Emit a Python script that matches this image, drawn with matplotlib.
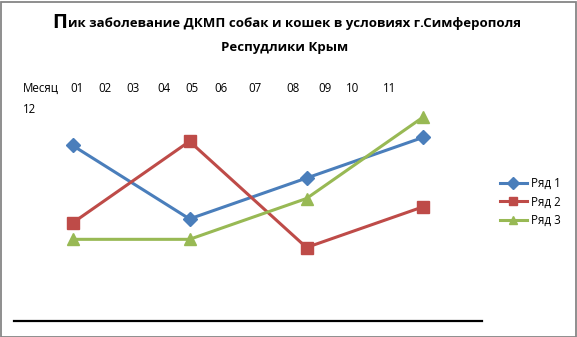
import matplotlib
matplotlib.use("Agg")
import matplotlib.pyplot as plt
from matplotlib.patches import Rectangle

plt.rcParams['font.family'] = ['Open Sans', 'DejaVu Sans']

categories = ["1", "2", "3", "4"]
series_names = ["Ряд 1", "Ряд 2", "Ряд 3"]
ryad1 = [4.3, 2.5, 3.5, 4.5]
ryad2 = [2.4, 4.4, 1.8, 2.8]
ryad3 = [2.0, 2.0, 3.0, 5.0]
month_word = "Месяц"
months = ["01", "02", "03", "04", "05", "06", "07", "08", "09", "10", "11", "12"]

W, H = 577, 337
fig = plt.figure(figsize=(W / 100, H / 100), dpi=100)

def fx(px):
    return px / W

def fy(py):
    return 1 - py / H

# frame
fig.patches.append(Rectangle((0.5 / W, 0.5 / H), (W - 2) / W, (H - 2) / H,
                             transform=fig.transFigure, fill=False,
                             edgecolor="#868686", linewidth=1.3))

ax = fig.add_axes([fx(14), fy(321), fx(482) - fx(14), fy(76) - fy(321)])
ax.set_xlim(-0.5, 3.5)
ax.set_ylim(0, 6)
for s in ["top", "right", "left"]:
    ax.spines[s].set_visible(False)
ax.spines["bottom"].set_linewidth(1.6)
ax.spines["bottom"].set_color("black")
ax.set_xticks([])
ax.set_yticks([])

x = list(range(len(categories)))
styles = [
    (ryad1, "#4A7EBB", "D", 7),
    (ryad2, "#BE4B48", "s", 8.5),
    (ryad3, "#98B954", "^", 9),
]
handles = []
for (vals, col, mk, ms), name in zip(styles, series_names):
    ln, = ax.plot(x, vals, color=col, linewidth=2.2, marker=mk, markersize=ms,
                  markerfacecolor=col, markeredgecolor=col, label=name,
                  clip_on=False)
    handles.append(ln)

leg = fig.legend(handles=handles, loc="center left",
                 bbox_to_anchor=(fx(495), fy(202)), frameon=False,
                 fontsize=8.3, handlelength=2.4, handletextpad=0.3,
                 labelspacing=0.45, borderaxespad=0)
for h in leg.legend_handles:
    h.set_markersize(6)

# title
fig.text(fx(52), fy(23), "П", fontsize=14.5, fontweight="bold",
         ha="left", va="center")
fig.text(fx(68), fy(24), "ик заболевание ДКМП собак и кошек в условиях г.Симферополя",
         fontsize=9.5, fontweight="bold", ha="left", va="center")
fig.text(fx(285), fy(47), "Респудлики Крым", fontsize=9.5, fontweight="bold",
         ha="center", va="center")

# month text box
month_x = [70, 98, 126, 157, 185, 214, 248, 286, 318, 346, 383]
fig.text(fx(23), fy(88), month_word, fontsize=8.3, ha="left", va="center")
for m, px in zip(months[:11], month_x):
    fig.text(fx(px), fy(88), m, fontsize=8.3, ha="left", va="center")
fig.text(fx(23), fy(110), months[11], fontsize=8.3, ha="left", va="center")

fig.savefig("out.png", dpi=100)
